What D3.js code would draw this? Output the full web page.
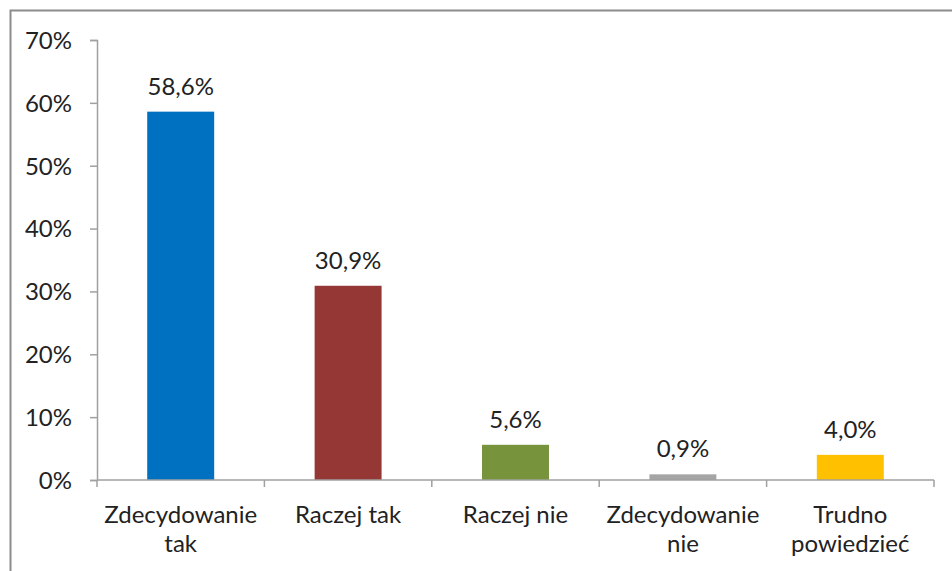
<!DOCTYPE html>
<html><head><meta charset="utf-8">
<script src="https://cdn.jsdelivr.net/npm/d3@7"></script>
<style>html,body{margin:0;padding:0;background:#fff;}svg{display:block;}</style>
</head><body>
<svg id="chart" width="952" height="571"></svg>
<script>
const categories = [["Zdecydowanie","tak"],["Raczej tak"],["Raczej nie"],["Zdecydowanie","nie"],["Trudno","powiedzieć"]];
const values = [58.6, 30.9, 5.6, 0.9, 4.0];
const valueLabels = ["58,6%","30,9%","5,6%","0,9%","4,0%"];
const colors = ["#0070C0","#953735","#77933C","#A5A5A5","#FFC000"];
const yTicks = [0,10,20,30,40,50,60,70];

const svg = d3.select("#chart");
const font = "Lato, 'Open Sans', sans-serif";
const fs = 24;
const textColor = "#222";

// outer border
svg.append("rect").attr("x",10.5).attr("y",10.5).attr("width",960).attr("height",600)
  .attr("fill","none").attr("stroke","#8c8c8c").attr("stroke-width",2);

const x0 = 97, x1 = 934, yTop = 40, yBot = 480;
const x = d3.scaleBand().domain(d3.range(values.length)).range([x0,x1]).paddingInner(0.6).paddingOuter(0.3);
const y = d3.scaleLinear().domain([0,70]).range([yBot,yTop]);

// y axis
const yAxis = d3.axisLeft(y).tickValues(yTicks).tickFormat(d=>d+"%").tickSize(7).tickPadding(18);
const gy = svg.append("g").attr("transform",`translate(${x0},0)`).call(yAxis);
gy.select(".domain").attr("stroke","#a0a0a0").attr("stroke-width",1.5);
gy.selectAll(".tick line").attr("stroke","#a0a0a0").attr("stroke-width",1.5);
gy.selectAll(".tick text").attr("font-family",font).attr("font-size",fs).attr("fill",textColor).attr("dy","0.35em");

// bars
svg.selectAll("rect.bar").data(values).join("rect").attr("class","bar")
  .attr("x",(d,i)=>x(i)).attr("width",x.bandwidth())
  .attr("y",d=>y(d)).attr("height",d=>yBot-y(d))
  .attr("fill",(d,i)=>colors[i]);

// value labels
svg.selectAll("text.val").data(values).join("text").attr("class","val")
  .attr("x",(d,i)=>x(i)+x.bandwidth()/2).attr("y",d=>y(d)-17)
  .attr("text-anchor","middle").attr("font-family",font).attr("font-size",fs).attr("fill",textColor)
  .text((d,i)=>valueLabels[i]);

// x axis
const bandW = (x1-x0)/values.length;
const gx = svg.append("g");
gx.append("line").attr("x1",x0).attr("x2",x1).attr("y1",yBot).attr("y2",yBot).attr("stroke","#a0a0a0").attr("stroke-width",1.5);
gx.selectAll("line.t").data(d3.range(values.length+1)).join("line").attr("class","t")
  .attr("x1",i=>x0+i*bandW).attr("x2",i=>x0+i*bandW).attr("y1",yBot).attr("y2",yBot+7)
  .attr("stroke","#a0a0a0").attr("stroke-width",1.5);
const labs = gx.selectAll("text.cat").data(categories).join("text").attr("class","cat")
  .attr("font-family",font).attr("font-size",fs).attr("fill",textColor).attr("text-anchor","middle");
labs.each(function(lines,i){
  const t = d3.select(this);
  lines.forEach((l,j)=>{
    t.append("tspan").attr("x",x(i)+x.bandwidth()/2).attr("y",523+j*29).text(l);
  });
});
</script>
</body></html>
